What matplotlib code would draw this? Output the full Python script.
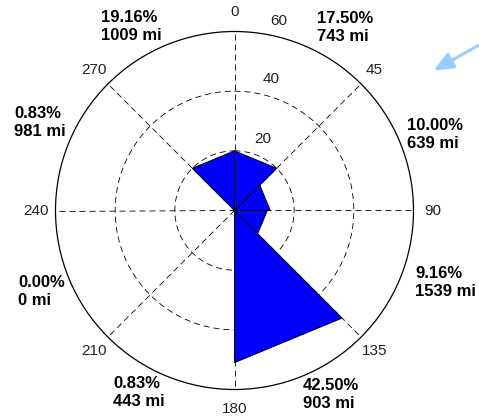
import numpy as np
import matplotlib.pyplot as plt
from matplotlib.patches import FancyArrowPatch

plt.rcParams['font.family'] = ['Liberation Sans', 'DejaVu Sans']

# sectors (compass degrees, clockwise from north) and their radial counts
sector_start = [315, 0, 45, 90, 135, 180, 225, 270]
sector_value = [20, 20, 12, 11, 51, 0, 0, 0]
pct_labels = ['19.16%', '17.50%', '10.00%', '9.16%', '42.50%', '0.83%', '0.00%', '0.83%']
mile_labels = ['1009 mi', '743 mi', '639 mi', '1539 mi', '903 mi', '443 mi', '0 mi', '981 mi']

spoke_angles = [0, 45, 90, 135, 180, 225, 270, 315]
spoke_labels = ['0', '45', '90', '135', '180', '210', '240', '270']
ring_values = [20, 40, 60]

# where the sector labels sit (pixel, top-left corner)
label_xy = [(101, 10), (317, 11), (407, 118), (415, 266),
            (303, 378), (113, 376), (18, 275), (14, 106)]
# radial label spots (compass angle, radius)
rlabel_pos = [(21.3, 25.9), (15.4, 45.6), (13.1, 65.1)]

W, H = 479, 419
fig = plt.figure(figsize=(W / 100, H / 100), dpi=100)
cx, cy, R = 234.5, 210.5, 179
ax = fig.add_axes([(cx - R) / W, (H - cy - R) / H, 2 * R / W, 2 * R / H],
                  projection='polar')
ax.set_theta_zero_location('N')
ax.set_theta_direction(-1)
ax.set_ylim(0, ring_values[-1])
ax.grid(False)
ax.set_xticks([])
ax.set_yticks([])
ax.spines['polar'].set_linewidth(0.9)

# dashes are scaled by linewidth, so these give ~6px on / 4px off
dash = (0, (7.2, 4.8))
th = np.linspace(0, 2 * np.pi, 721)
for r in ring_values[:-1]:
    ax.plot(th, np.full_like(th, r), color='black', lw=0.6, ls=dash, zorder=1)
for a in spoke_angles:
    ax.plot([np.radians(a)] * 2, [0, ring_values[-1]], color='black', lw=0.6, ls=dash, zorder=1)

for start, v in zip(sector_start, sector_value):
    if v <= 0:
        continue
    t0 = np.radians(start)
    t1 = np.radians(start + 45)
    ax.fill([0, t0, t1], [0, v, v], facecolor='#0000ff', edgecolor='black', lw=0.7, zorder=3)

for a, lab in zip(spoke_angles, spoke_labels):
    ax.text(np.radians(a), 66.4, lab, ha='center', va='center', fontsize=11, color='#222222')
for (a, r), v in zip(rlabel_pos, ring_values):
    ax.text(np.radians(a), r, str(v), ha='center', va='center', fontsize=11, color='#222222')

for (x, y), p, m in zip(label_xy, pct_labels, mile_labels):
    fig.text(x / W, 1 - y / H, p + '\n' + m, ha='left', va='top', fontsize=12,
             fontweight='bold', linespacing=1.25)

arrow = FancyArrowPatch(posA=(481 / W, 1 - 44 / H), posB=(431 / W, 1 - 72 / H),
                        transform=fig.transFigure,
                        arrowstyle='-|>,head_length=0.4,head_width=0.17',
                        mutation_scale=30, color='#99ccff', lw=2.2)
fig.add_artist(arrow)

fig.savefig('out.png', dpi=100)
